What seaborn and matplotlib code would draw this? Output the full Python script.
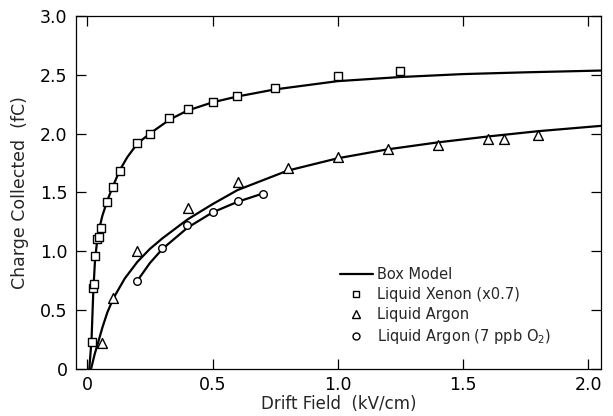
import numpy as np
import pandas as pd
import seaborn as sns
import matplotlib
matplotlib.use('Agg')
import matplotlib.pyplot as plt
from matplotlib.lines import Line2D

xenon_field = [0.017, 0.024, 0.025, 0.031, 0.039, 0.047, 0.053, 0.077, 0.104, 0.13,
               0.20, 0.252, 0.328, 0.404, 0.50, 0.598, 0.749, 1.00, 1.25]
xenon_charge = [0.23, 0.69, 0.72, 0.96, 1.10, 1.12, 1.20, 1.416, 1.55, 1.685,
                1.917, 2.00, 2.135, 2.206, 2.27, 2.32, 2.39, 2.49, 2.53]

argon_field = [0.057, 0.104, 0.20, 0.404, 0.60, 0.80, 1.00, 1.20, 1.40, 1.60, 1.665, 1.80]
argon_charge = [0.22, 0.60, 1.00, 1.365, 1.59, 1.71, 1.80, 1.87, 1.90, 1.95, 1.957, 1.99]

argon_o2_field = [0.20, 0.30, 0.40, 0.50, 0.60, 0.70]
argon_o2_charge = [0.75, 1.03, 1.22, 1.33, 1.43, 1.49]

# box model curves
xe_model_field = [0.008, 0.017, 0.024, 0.031, 0.04, 0.05, 0.06, 0.08, 0.10, 0.13, 0.16,
                  0.20, 0.25, 0.33, 0.40, 0.50, 0.60, 0.75, 1.00, 1.25, 1.50, 1.75, 2.05]
xe_model_charge = [0.0, 0.25, 0.66, 0.93, 1.10, 1.21, 1.30, 1.43, 1.54, 1.69, 1.80,
                   1.915, 2.00, 2.12, 2.195, 2.265, 2.315, 2.375, 2.445, 2.48, 2.505, 2.52, 2.535]

ar_model_field = [0.015, 0.03, 0.044, 0.06, 0.08, 0.104, 0.15, 0.20, 0.25, 0.30, 0.40,
                  0.50, 0.60, 0.80, 1.00, 1.20, 1.40, 1.60, 1.80, 2.05]
ar_model_charge = [0.0, 0.13, 0.23, 0.35, 0.48, 0.60, 0.77, 0.91, 1.02, 1.11, 1.27,
                   1.40, 1.52, 1.685, 1.79, 1.866, 1.925, 1.975, 2.02, 2.065]

o2_model_field = [0.20, 0.25, 0.30, 0.40, 0.50, 0.60, 0.70]
o2_model_charge = [0.75, 0.90, 1.02, 1.20, 1.33, 1.42, 1.49]

x_ticks = [0, 0.5, 1.0, 1.5, 2.0]
x_tick_labels = ['0', '0.5', '1.0', '1.5', '2.0']
y_ticks = [0, 0.5, 1.0, 1.5, 2.0, 2.5, 3.0]
y_tick_labels = ['0', '0.5', '1.0', '1.5', '2.0', '2.5', '3.0']

sns.set_style('ticks')
plt.rcParams['font.family'] = ['DejaVu Sans']

fig = plt.figure(figsize=(6.13, 4.16), dpi=100)
ax = fig.add_axes([0.124, 0.113, 0.856, 0.849])

for fx, fy in [(xe_model_field, xe_model_charge),
               (ar_model_field, ar_model_charge),
               (o2_model_field, o2_model_charge)]:
    sns.lineplot(x=fx, y=fy, ax=ax, color='black', linewidth=1.6, sort=False, zorder=2)

marker_style = dict(facecolor='white', edgecolor='black', linewidth=1.0, zorder=3, ax=ax, legend=False)
sns.scatterplot(x=xenon_field, y=xenon_charge, marker='s', s=30, **marker_style)
sns.scatterplot(x=argon_field, y=argon_charge, marker='^', s=50, **marker_style)
sns.scatterplot(x=argon_o2_field, y=argon_o2_charge, marker='o', s=30, **marker_style)

ax.set_xlim(-0.045, 2.05)
ax.set_ylim(0, 3.0)
ax.set_xticks(x_ticks)
ax.set_xticklabels(x_tick_labels)
ax.set_yticks(y_ticks)
ax.set_yticklabels(y_tick_labels)
ax.tick_params(direction='in', length=7, width=0.9, top=True, right=True,
               labelsize=12.5, colors='black')
ax.tick_params(axis='x', pad=5)
ax.tick_params(axis='y', pad=6)
for s in ax.spines.values():
    s.set_linewidth(0.9)
    s.set_color('black')
ax.set_xlabel('Drift Field  (kV/cm)', fontsize=12, labelpad=1)
ax.set_ylabel('Charge Collected  (fC)', fontsize=12.5, labelpad=8)

handles = [
    Line2D([], [], color='black', linewidth=1.6),
    Line2D([], [], marker='s', linestyle='', markerfacecolor='white', markeredgecolor='black', markersize=5),
    Line2D([], [], marker='^', linestyle='', markerfacecolor='white', markeredgecolor='black', markersize=6),
    Line2D([], [], marker='o', linestyle='', markerfacecolor='white', markeredgecolor='black', markersize=5),
]
labels = ['Box Model', 'Liquid Xenon (x0.7)', 'Liquid Argon', 'Liquid Argon (7 ppb O$_2$)']
ax.legend(handles, labels, loc='upper left', bbox_to_anchor=(0.49, 0.31), frameon=False,
          fontsize=10.5, handlelength=2.2, handletextpad=0.3, labelspacing=0.35, borderpad=0)

fig.savefig('out.png', dpi=100)
